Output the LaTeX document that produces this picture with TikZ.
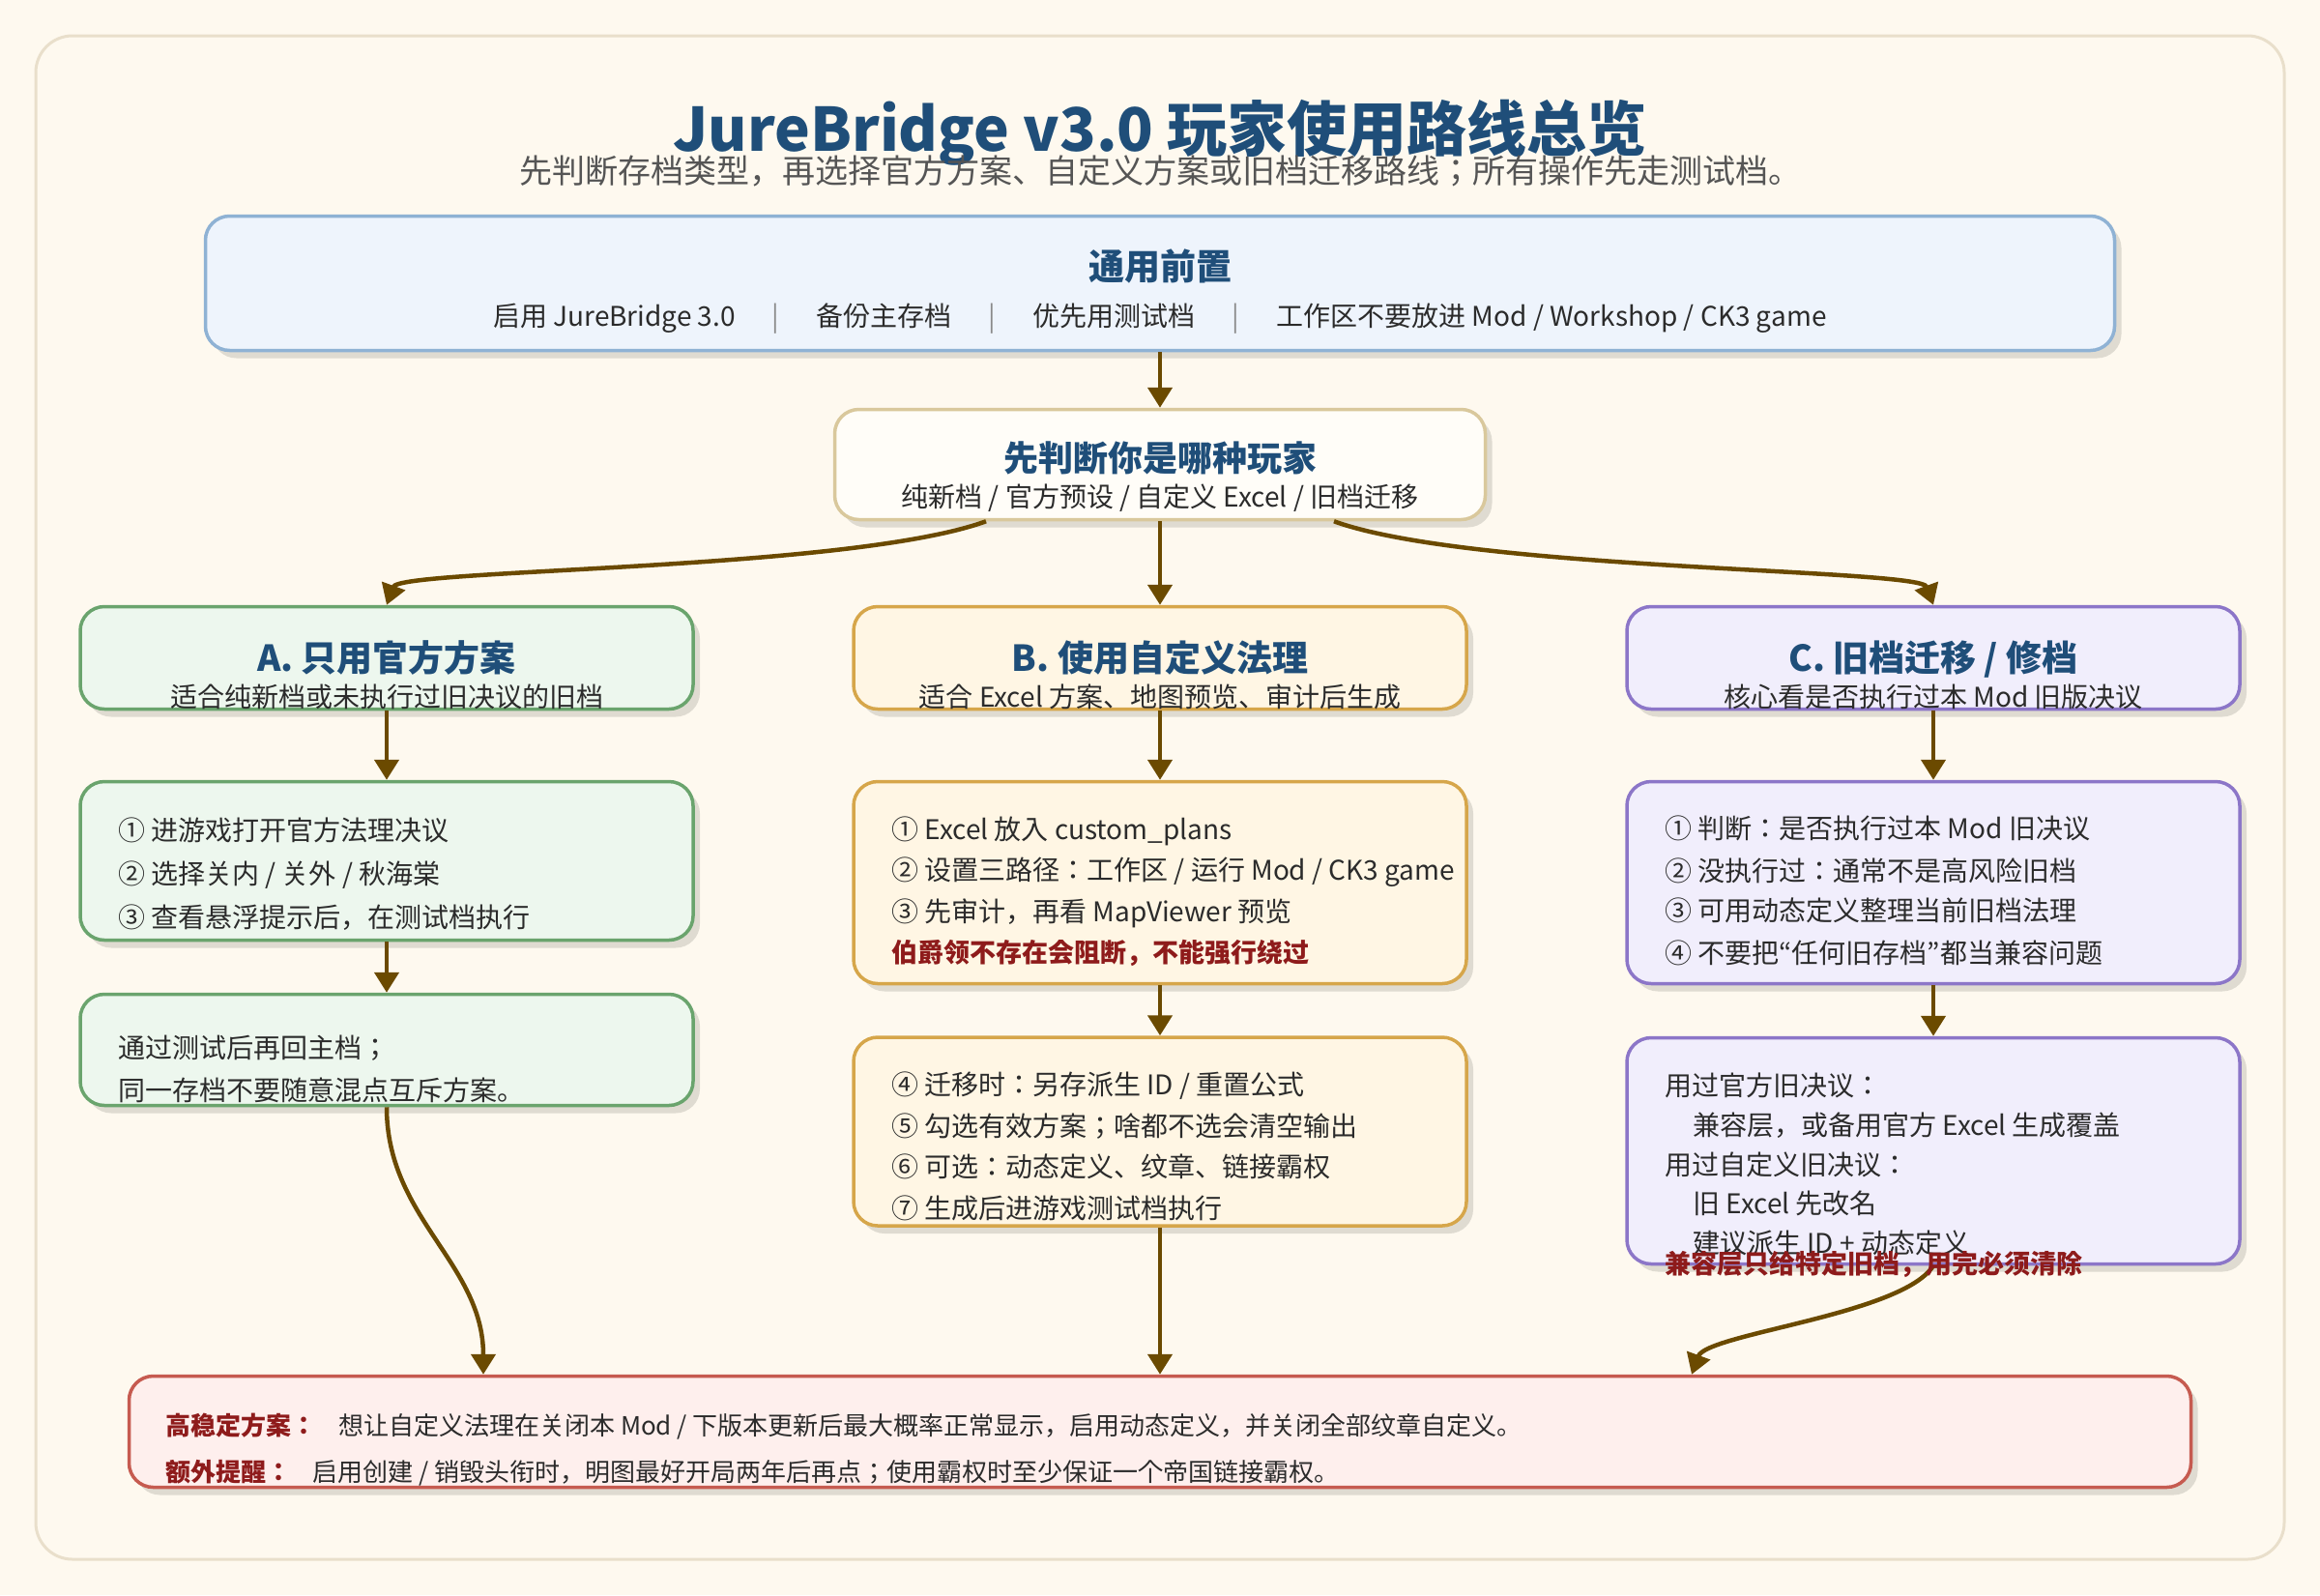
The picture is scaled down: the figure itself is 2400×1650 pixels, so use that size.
\documentclass[tikz,border=0pt]{standalone}
\usepackage{fontspec}
\setmainfont{Noto Sans CJK JP}
\usetikzlibrary{arrows.meta,shadows}

\definecolor{paper}{HTML}{FEF9EF}
\definecolor{frame}{HTML}{E9DFCB}
\definecolor{titleblue}{HTML}{1F4E79}
\definecolor{ink}{HTML}{2B2B2B}
\definecolor{subgray}{HTML}{555555}
\definecolor{sepgray}{HTML}{8A8A8A}
\definecolor{shade}{HTML}{DFDBD1}
\definecolor{topfill}{HTML}{EEF4FC}
\definecolor{topdraw}{HTML}{8FB2D4}
\definecolor{judgefill}{HTML}{FFFDF8}
\definecolor{judgedraw}{HTML}{D9C89C}
\definecolor{afill}{HTML}{EDF7EE}
\definecolor{adraw}{HTML}{6AA46D}
\definecolor{bfill}{HTML}{FFF6E4}
\definecolor{bdraw}{HTML}{D6A64A}
\definecolor{cfill}{HTML}{F1EEFC}
\definecolor{cdraw}{HTML}{8C76C8}
\definecolor{finfill}{HTML}{FEEFED}
\definecolor{findraw}{HTML}{C65B50}
\definecolor{warnred}{HTML}{8E1B1B}
\definecolor{arrowc}{HTML}{6B4A00}

\begin{document}
\begin{tikzpicture}[x=1pt,y=-1pt]
		\tikzset{box/.style = {draw, rounded corners=25pt, line width=3.5pt, inner sep=0,
				drop shadow={shadow xshift=7pt, shadow yshift=-8pt, fill=shade, opacity=1}},
			topbox/.style = {box, fill=topfill, draw=topdraw},
			judgebox/.style = {box, fill=judgefill, draw=judgedraw},
			abox/.style = {box, fill=afill, draw=adraw, minimum width=634pt},
			bbox/.style = {box, fill=bfill, draw=bdraw, minimum width=634pt},
			cbox/.style = {box, fill=cfill, draw=cdraw, minimum width=634pt},
			finbox/.style = {box, fill=finfill, draw=findraw},
			ttl/.style = {font=\bfseries\fontsize{37}{40}\selectfont, text=titleblue, inner sep=0, text height=32.5pt, text depth=4.5pt},
			txt/.style = {font=\fontsize{28}{32}\selectfont, text=ink, inner sep=0, text height=24.6pt, text depth=3.4pt},
			line/.style = {txt, anchor=west},
			warn/.style = {line, font=\bfseries\fontsize{27}{30}\selectfont, text=warnred},
			note/.style = {font=\fontsize{26}{30}\selectfont, text=ink, anchor=west, inner sep=0, text height=22.9pt, text depth=3.1pt},
			notehd/.style = {note, font=\bfseries\fontsize{26}{30}\selectfont, text=warnred},
			flow/.style = {draw=arrowc, line width=4.5pt, -{Triangle[length=21pt,width=25pt]}}}

		\fill[paper] (0,0) rectangle (2400,1650);
		\draw[frame, line width=3pt, rounded corners=38pt] (37,37) rectangle (2363,1613);

		\node[font=\bfseries\fontsize{62}{66}\selectfont, text=titleblue, inner sep=0, text height=54.6pt, text depth=7.4pt] (title) at (1200,133) {JureBridge v3.0 玩家使用路线总览};
		\node[font=\fontsize{34}{38}\selectfont, text=subgray, inner sep=0, text height=29.9pt, text depth=4.1pt] (subtitle) at (1200,177) {先判断存档类型，再选择官方方案、自定义方案或旧档迁移路线；所有操作先走测试档。};

		\node[topbox, minimum width=1975pt, minimum height=139pt] (top) at (1200,293) {};
		\node[judgebox, minimum width=673pt, minimum height=114pt] (judge) at (1200,480.5) {};

		\node[abox, minimum height=106pt] (a1) at (400,680.5) {};
		\node[abox, minimum height=164pt] (a2) at (400,890.5) {};
		\node[abox, minimum height=115pt] (a3) at (400,1086) {};

		\node[bbox, minimum height=106pt] (b1) at (1200,680.5) {};
		\node[bbox, minimum height=209pt] (b2) at (1200,913) {};
		\node[bbox, minimum height=195pt] (b3) at (1200,1170.5) {};

		\node[cbox, minimum height=106pt] (c1) at (2000,680.5) {};
		\node[cbox, minimum height=209pt] (c2) at (2000,913) {};
		\node[cbox, minimum height=234pt] (c3) at (2000,1190.5) {};

		\node[finbox, minimum width=2133pt, minimum height=115pt] (fin) at (1200,1481) {};

		\draw[flow] (top.south) -- (judge.north);
		\draw[flow] (judge.south) -- (b1.north);
		\draw[flow] ([xshift=-180pt]judge.south) to[out=200, in=70, out distance=150pt, in distance=40pt] (a1.north);
		\draw[flow] ([xshift=180pt]judge.south) to[out=-20, in=110, out distance=150pt, in distance=40pt] (c1.north);
		\draw[flow] (a1.south) -- (a2.north);
		\draw[flow] (a2.south) -- (a3.north);
		\draw[flow] (b1.south) -- (b2.north);
		\draw[flow] (b2.south) -- (b3.north);
		\draw[flow] (c1.south) -- (c2.north);
		\draw[flow] (c2.south) -- (c3.north);
		\draw[flow] (a3.south) to[out=-90, in=90] ([xshift=-700pt]fin.north);
		\draw[flow] (b3.south) -- (b3.south |- fin.north);
		\draw[flow] (c3.south) to[out=238, in=70, out distance=60pt, in distance=45pt] ([xshift=550pt]fin.north);

		\node[ttl] (topttl) at (1200,275) {通用前置};
		\node[txt] (pre1) at (635.5,327) {启用 JureBridge 3.0};
		\node[txt, text=sepgray] (sep1) at (802,327) {|};
		\node[txt] (pre2) at (914.5,327) {备份主存档};
		\node[txt, text=sepgray] (sep2) at (1026,327) {|};
		\node[txt] (pre3) at (1152.5,327) {优先用测试档};
		\node[txt, text=sepgray] (sep3) at (1278,327) {|};
		\node[txt] (pre4) at (1605,327) {工作区不要放进 Mod / Workshop / CK3 game};

		\node[ttl, font=\bfseries\fontsize{36}{40}\selectfont] (judgettl) at (1200,473) {先判断你是哪种玩家};
		\node[txt] (judgesub) at (1200,514) {纯新档 / 官方预设 / 自定义 Excel / 旧档迁移};

		\node[ttl] (a1ttl) at (400,680) {A. 只用官方方案};
		\node[txt] (a1sub) at (400,721) {适合纯新档或未执行过旧决议的旧档};
		\node[line] (a2l1) at (122,859) {① 进游戏打开官方法理决议};
		\node[line] (a2l2) at (122,904) {② 选择关内 / 关外 / 秋海棠};
		\node[line] (a2l3) at (122,949) {③ 查看悬浮提示后，在测试档执行};
		\node[line] (a3l1) at (122,1084) {通过测试后再回主档；};
		\node[line] (a3l2) at (122,1128) {同一存档不要随意混点互斥方案。};

		\node[ttl] (b1ttl) at (1200,680) {B. 使用自定义法理};
		\node[txt] (b1sub) at (1200,721) {适合 Excel 方案、地图预览、审计后生成};
		\node[line] (b2l1) at (922,858) {① Excel 放入 custom\_plans};
		\node[line] (b2l2) at (922,900) {② 设置三路径：工作区 / 运行 Mod / CK3 game};
		\node[line] (b2l3) at (922,943) {③ 先审计，再看 MapViewer 预览};
		\node[warn] (b2l4) at (922,985) {伯爵领不存在会阻断，不能强行绕过};
		\node[line] (b3l1) at (922,1122) {④ 迁移时：另存派生 ID / 重置公式};
		\node[line] (b3l2) at (922,1165) {⑤ 勾选有效方案；啥都不选会清空输出};
		\node[line] (b3l3) at (922,1207) {⑥ 可选：动态定义、纹章、链接霸权};
		\node[line] (b3l4) at (922,1250) {⑦ 生成后进游戏测试档执行};

		\node[ttl] (c1ttl) at (2000,680) {C. 旧档迁移 / 修档};
		\node[txt] (c1sub) at (2000,721) {核心看是否执行过本 Mod 旧版决议};
		\node[line] (c2l1) at (1722,857) {① 判断：是否执行过本 Mod 旧决议};
		\node[line] (c2l2) at (1722,901) {② 没执行过：通常不是高风险旧档};
		\node[line] (c2l3) at (1722,942) {③ 可用动态定义整理当前旧档法理};
		\node[line] (c2l4) at (1722,986) {④ 不要把“任何旧存档”都当兼容问题};
		\node[line] (c3l1) at (1722,1123) {用过官方旧决议：};
		\node[line] (c3l2) at (1751,1164) {兼容层，或备用官方 Excel 生成覆盖};
		\node[line] (c3l3) at (1722,1205) {用过自定义旧决议：};
		\node[line] (c3l4) at (1751,1245) {旧 Excel 先改名};
		\node[line] (c3l5) at (1751,1286) {建议派生 ID + 动态定义};
		\node[warn] (c3l6) at (1722,1307) {兼容层只给特定旧档，用完必须清除};

		\node[notehd] (finhd1) at (171,1475) {高稳定方案：};
		\node[note] (fintx1) at (350,1475) {想让自定义法理在关闭本 Mod / 下版本更新后最大概率正常显示，启用动态定义，并关闭全部纹章自定义。};
		\node[notehd] (finhd2) at (171,1523) {额外提醒：};
		\node[note] (fintx2) at (323,1523) {启用创建 / 销毁头衔时，明图最好开局两年后再点；使用霸权时至少保证一个帝国链接霸权。};

	\end{tikzpicture}
\end{document}
